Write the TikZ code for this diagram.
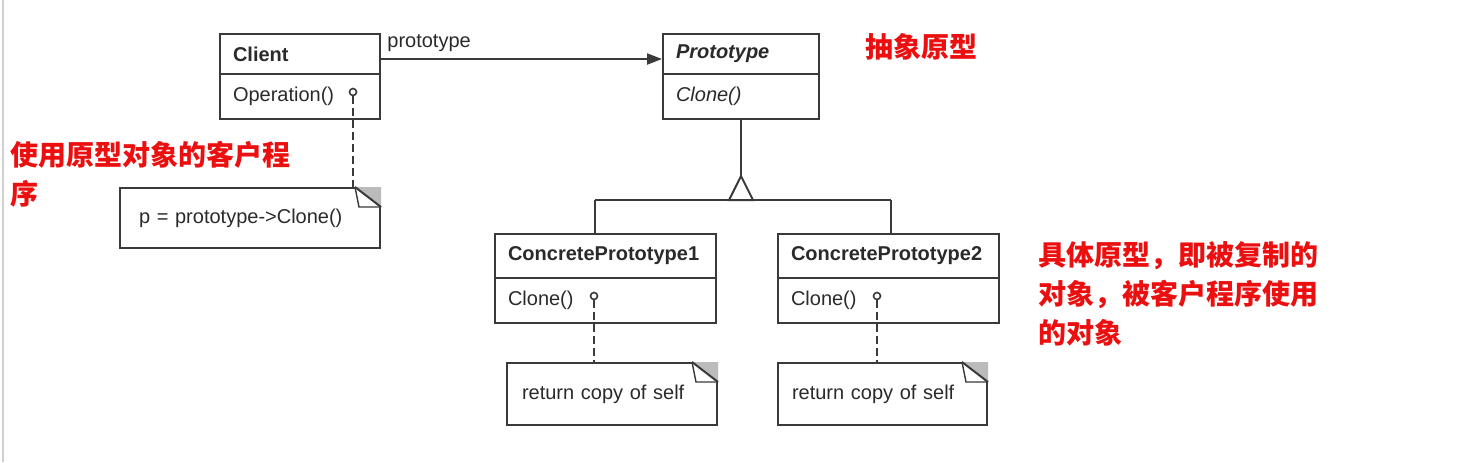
\documentclass[tikz,border=0pt]{standalone}
\usepackage{fontspec}
\setmainfont{Liberation Sans}
\newfontfamily\cjk{Noto Sans CJK SC}
\usetikzlibrary{arrows.meta}
\definecolor{umlline}{HTML}{3A3A3A}
\definecolor{umltext}{HTML}{2A2A2A}
\definecolor{notered}{RGB}{235,15,15}
\definecolor{foldgray}{HTML}{BBBBBB}
\definecolor{edgegray}{HTML}{D0D0D0}
\newcommand\myuml{\fontsize{10}{12}\selectfont}
\begin{document}
\begin{tikzpicture}[x=0.5pt,y=-0.5pt,
  comp/.style={draw=umlline, line width=1pt, anchor=north west, inner xsep=6.5pt,
    inner ysep=0pt, align=left, text=umltext, font=\myuml},
  notebox/.style={draw=umlline, line width=1pt, anchor=north west, inner ysep=0pt,
    align=left, text=umltext, font=\myuml},
  opcirc/.style={circle, draw=umlline, line width=0.8pt, fill=white, minimum size=3.5pt, inner sep=0pt},
  dashline/.style={draw=umlline, line width=1pt, dash pattern=on 4pt off 2pt},
  umledge/.style={draw=umlline, line width=1pt},
  redtxt/.style={text=notered, align=left, inner sep=0pt,
    font=\cjk\bfseries\fontsize{14}{19.5}\selectfont}
]
\useasboundingbox (0,0) rectangle (1472,462);
\draw[edgegray, line width=1pt] (3,0) -- (3,462);

% Client
\node[comp, text width=67pt, minimum height=20pt] (clientname) at (219,33) {\bfseries Client};
\node[comp, text width=67pt, minimum height=22.5pt] (clientops) at (219,73) {Operation()};
\node[opcirc] (c0) at (353,92) {};

% Prototype
\node[comp, text width=65pt, minimum height=20pt] (protoname) at (662,33) {\bfseries\itshape Prototype};
\node[comp, text width=65pt, minimum height=22.5pt] (protoops) at (662,73) {\itshape Clone()};

% Concrete prototypes
\node[comp, text width=97.5pt, minimum height=22pt] (cp1name) at (494,233) {\bfseries ConcretePrototype1};
\node[comp, text width=97.5pt, minimum height=22.5pt] (cp1ops) at (494,277) {Clone()};
\node[opcirc] (c1) at (594,296) {};
\node[comp, text width=97.5pt, minimum height=22pt] (cp2name) at (777,233) {\bfseries ConcretePrototype2};
\node[comp, text width=97.5pt, minimum height=22.5pt] (cp2ops) at (777,277) {Clone()};
\node[opcirc] (c2) at (877,296) {};

% Notes
\node[notebox, inner xsep=9.5pt, text width=111pt, minimum height=30pt] (cnote) at (119,187) {p = prototype->Clone()};
\node[notebox, inner xsep=7.5pt, text width=90pt, minimum height=31pt] (note1) at (506,362) {return copy of self};
\node[notebox, inner xsep=7pt, text width=90.5pt, minimum height=31pt] (note2) at (777,362) {return copy of self};

\foreach \n in {cnote,note1,note2}{
  \fill[foldgray] ([xshift=-13pt]\n.north east) -- (\n.north east) -- ([yshift=-10pt]\n.north east) -- cycle;
  \draw[umlline, line width=0.7pt, fill=white] ([xshift=-13pt]\n.north east) -- ([xshift=-11pt,yshift=-10pt]\n.north east) -- ([yshift=-10pt]\n.north east);
  \draw[umlline, line width=1pt] ([xshift=-13pt]\n.north east) -- ([yshift=-10pt]\n.north east);
}

% Association
\draw[umledge, -{Triangle[length=7.5pt,width=5.5pt]}] ([yshift=-2.5pt]clientname.east) -- ([yshift=-2.5pt]protoname.west);
\node[anchor=west, inner sep=0pt, text=umltext, font=\myuml] (assoclabel) at (387,43) {prototype};

% Note links
\draw[dashline] (c0.south) -- (c0 |- cnote.north);
\draw[dashline] (c1.south) -- (c1 |- note1.north);
\draw[dashline] (c2.south) -- (c2 |- note2.north);

% Inheritance
\coordinate (apex) at (741,176);
\coordinate (j1) at (595,200);
\coordinate (j2) at (891,200);
\draw[umledge] (protoops.south -| apex) -- (apex);
\draw[umledge] (j1) -- (j2);
\draw[umledge] (j1) -- (j1 |- cp1name.north);
\draw[umledge] (j2) -- (j2 |- cp2name.north);
\draw[umledge, fill=white] ([xshift=-6pt]apex |- j1) -- (apex) -- ([xshift=6pt]apex |- j1) -- cycle;

% Annotations
\node[redtxt, anchor=west] (t1) at (10,174.5) {使用原型对象的客户程\\序};
\node[redtxt, anchor=west] (t2) at (865,47) {抽象原型};
\node[redtxt, anchor=west] (t3) at (1038,294) {具体原型，即被复制的\\对象，被客户程序使用\\的对象};
\end{tikzpicture}
\end{document}
